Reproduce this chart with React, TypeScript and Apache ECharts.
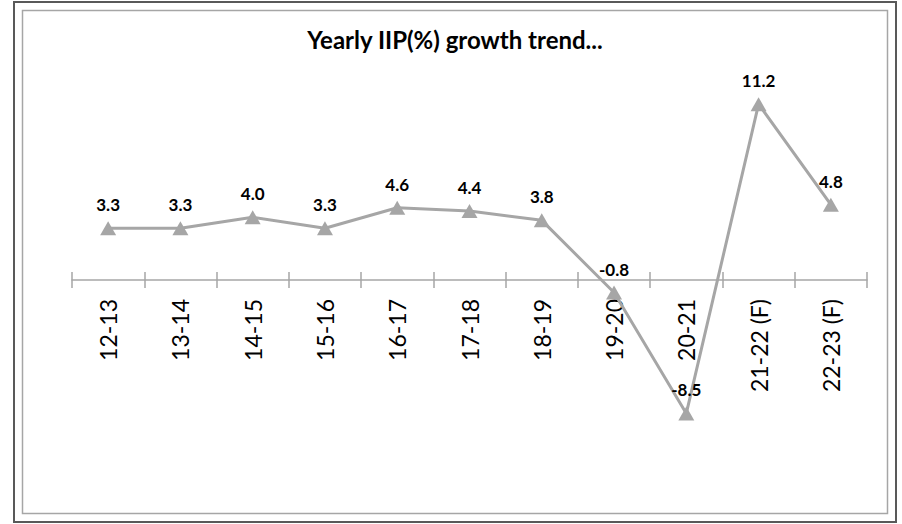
import { useEffect, useRef } from "react";
import * as echarts from "echarts";

// Financial years and yearly IIP growth (%)
const categories = [
  "12-13",
  "13-14",
  "14-15",
  "15-16",
  "16-17",
  "17-18",
  "18-19",
  "19-20",
  "20-21",
  "21-22 (F)",
  "22-23 (F)",
];
const growth = [3.3, 3.3, 4.0, 3.3, 4.6, 4.4, 3.8, -0.8, -8.5, 11.2, 4.8];
const titleText = "Yearly IIP(%) growth trend...";

const Y_MIN = -12;
const Y_MAX = 14;
const GRID_TOP = 60.2;
const GRID_HEIGHT = 408.2;
const ZERO_Y = GRID_TOP + (Y_MAX / (Y_MAX - Y_MIN)) * GRID_HEIGHT;
const GRID_BOTTOM_Y = GRID_TOP + GRID_HEIGHT;

const FONT = "Lato, 'Open Sans', sans-serif";
const GREY = "#a6a6a6";

export default function App() {
  const ref = useRef<HTMLDivElement>(null);

  useEffect(() => {
    if (!ref.current) return;
    const chart = echarts.init(ref.current, null, { renderer: "svg" });
    chart.setOption({
      animation: false,
      backgroundColor: "#ffffff",
      grid: {
        left: 72,
        right: 35,
        top: GRID_TOP,
        height: GRID_HEIGHT,
        containLabel: false,
        outerBoundsMode: "none",
      },
      graphic: [
        {
          type: "rect",
          shape: { x: 14, y: 2, width: 882, height: 520 },
          style: { fill: "none", stroke: "#595959", lineWidth: 2 },
          silent: true,
        },
        {
          type: "rect",
          shape: { x: 22.5, y: 10.5, width: 865, height: 503 },
          style: { fill: "none", stroke: GREY, lineWidth: 1.5 },
          silent: true,
        },
        {
          type: "text",
          x: 455,
          y: 39,
          style: {
            text: titleText,
            fontFamily: FONT,
            fontWeight: "bold",
            fontSize: 24,
            fill: "#000",
            textAlign: "center",
            textVerticalAlign: "middle",
          },
        },
      ],
      xAxis: [
        {
          // category axis drawn along the zero line, ticks pointing down
          type: "category",
          data: categories,
          boundaryGap: true,
          position: "bottom",
          offset: -(GRID_BOTTOM_Y - ZERO_Y),
          axisLine: { show: true, onZero: false, lineStyle: { color: GREY, width: 1.5 } },
          axisTick: { show: true, length: 8, lineStyle: { color: GREY, width: 1.5 } },
          axisLabel: {
            rotate: 90,
            margin: 19,
            fontFamily: FONT,
            fontSize: 23,
            color: "#000",
          },
          splitLine: { show: false },
        },
        {
          // upper half of the cross tick marks
          type: "category",
          data: categories,
          boundaryGap: true,
          position: "top",
          offset: -(ZERO_Y - GRID_TOP),
          axisLine: { show: false, onZero: false },
          axisTick: { show: true, length: 8, lineStyle: { color: GREY, width: 1.5 } },
          axisLabel: { show: false },
          splitLine: { show: false },
        },
      ],
      yAxis: {
        type: "value",
        min: Y_MIN,
        max: Y_MAX,
        show: false,
        splitLine: { show: false },
      },
      series: [
        {
          type: "line",
          data: growth,
          xAxisIndex: 0,
          yAxisIndex: 0,
          symbol: "triangle",
          symbolSize: [16, 14],
          lineStyle: { color: GREY, width: 3 },
          itemStyle: { color: GREY },
          label: {
            show: true,
            position: "top",
            distance: 8,
            formatter: (p: any) => Number(p.value).toFixed(1),
            fontFamily: FONT,
            fontWeight: "bold",
            fontSize: 17,
            color: "#000",
          },
          z: 3,
        },
      ],
    });
    return () => chart.dispose();
  }, []);

  return (
    <div
      ref={ref}
      style={{
        position: "absolute",
        left: 0,
        top: 0,
        width: 902,
        height: 524,
        background: "#fff",
      }}
    />
  );
}
